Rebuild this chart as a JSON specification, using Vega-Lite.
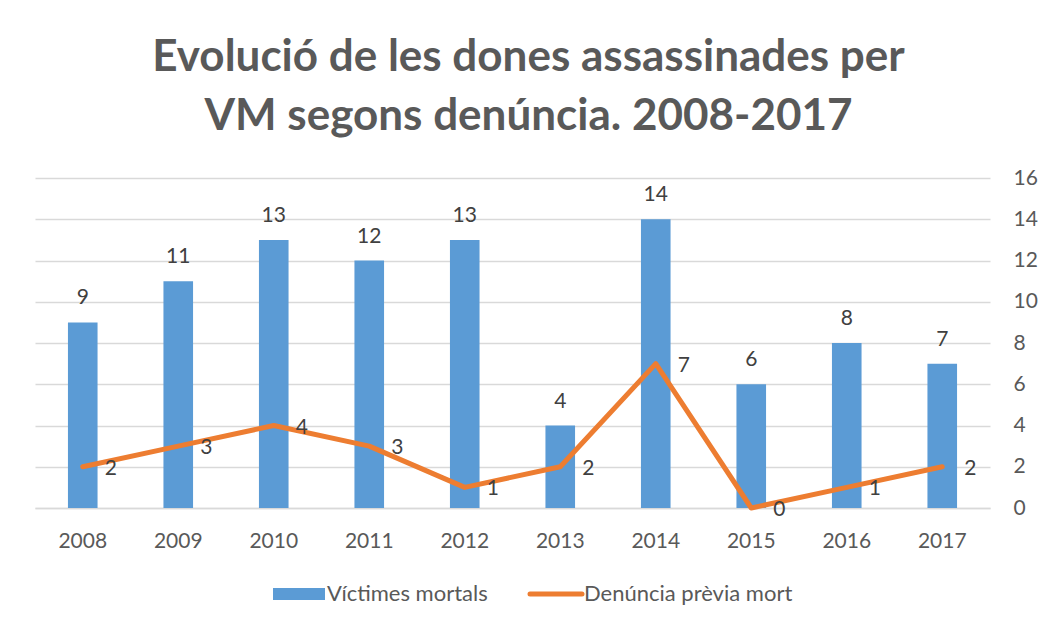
{
  "$schema": "https://vega.github.io/schema/vega-lite/v6.json",
  "width": 955,
  "height": 330,
  "autosize": {"type": "none"},
  "padding": {"left": 35, "top": 178, "right": 51, "bottom": 118},
  "background": "white",
  "title": {
    "text": ["Evolució de les dones assassinades per", "VM segons denúncia. 2008-2017"],
    "font": "Lato",
    "fontSize": 44,
    "fontWeight": "bold",
    "color": "#595959",
    "lineHeight": 59,
    "anchor": "middle",
    "baseline": "alphabetic",
    "dx": 16,
    "offset": -7
  },
  "data": {
    "values": [
      {"any": "2008", "victimes": 9, "denuncia": 2},
      {"any": "2009", "victimes": 11, "denuncia": 3},
      {"any": "2010", "victimes": 13, "denuncia": 4},
      {"any": "2011", "victimes": 12, "denuncia": 3},
      {"any": "2012", "victimes": 13, "denuncia": 1},
      {"any": "2013", "victimes": 4, "denuncia": 2},
      {"any": "2014", "victimes": 14, "denuncia": 7},
      {"any": "2015", "victimes": 6, "denuncia": 0},
      {"any": "2016", "victimes": 8, "denuncia": 1},
      {"any": "2017", "victimes": 7, "denuncia": 2}
    ]
  },
  "encoding": {
    "x": {
      "field": "any",
      "type": "nominal",
      "scale": {"paddingInner": 0.69, "paddingOuter": 0.345},
      "axis": {
        "title": null,
        "labelAngle": 0,
        "labelFont": "Lato",
        "labelFontSize": 21,
        "labelColor": "#595959",
        "labelPadding": 22,
        "ticks": false,
        "tickSize": 0,
        "domainColor": "#D9D9D9",
        "domainWidth": 1.5
      }
    }
  },
  "layer": [
    {
      "mark": {"type": "bar", "color": "#5B9BD5"},
      "encoding": {
        "y": {
          "field": "victimes",
          "type": "quantitative",
          "scale": {"domain": [0, 16]},
          "axis": {
            "orient": "right",
            "title": null,
            "values": [0, 2, 4, 6, 8, 10, 12, 14, 16],
            "grid": true,
            "gridColor": "#D9D9D9",
            "gridWidth": 1.5,
            "domain": false,
            "ticks": false,
            "tickSize": 0,
            "labelPadding": 23,
            "labelFont": "Lato",
            "labelFontSize": 21,
            "labelColor": "#595959"
          }
        },
        "color": {
          "datum": "Víctimes mortals",
          "scale": {
            "domain": ["Víctimes mortals", "Denúncia prèvia mort"],
            "range": ["#5B9BD5", "#ED7D31"]
          },
          "legend": {
            "title": null,
            "orient": "none",
            "direction": "horizontal",
            "legendX": 253,
            "legendY": 405,
            "symbolSize": 2704,
            "labelFont": "Lato",
            "labelFontSize": 22,
            "labelColor": "#595959",
            "labelOffset": 17,
            "labelLimit": 400,
            "columnPadding": 32,
            "encode": {
              "symbols": {
                "update": {
                  "shape": {"signal": "datum.value === 'Víctimes mortals' ? 'M-1,-0.23H1V0.23H-1Z' : 'M-1,0H1'"},
                  "fill": {"signal": "datum.value === 'Víctimes mortals' ? '#5B9BD5' : 'transparent'"},
                  "stroke": {"signal": "datum.value === 'Víctimes mortals' ? 'transparent' : '#ED7D31'"},
                  "strokeWidth": {"signal": "datum.value === 'Víctimes mortals' ? 0 : 5"},
                  "strokeCap": {"value": "round"},
                  "opacity": {"value": 1}
                }
              }
            }
          }
        }
      }
    },
    {
      "mark": {"type": "text", "font": "Lato", "fontSize": 21, "color": "#404040", "baseline": "alphabetic", "dy": -18},
      "encoding": {
        "y": {"field": "victimes", "type": "quantitative"},
        "text": {"field": "victimes", "type": "quantitative"}
      }
    },
    {
      "mark": {"type": "line", "strokeWidth": 5, "strokeCap": "round", "strokeJoin": "round"},
      "encoding": {
        "y": {"field": "denuncia", "type": "quantitative"},
        "color": {"datum": "Denúncia prèvia mort"}
      }
    },
    {
      "mark": {"type": "text", "font": "Lato", "fontSize": 21, "color": "#404040", "align": "left", "baseline": "middle", "dx": 22, "dy": 2},
      "encoding": {
        "y": {"field": "denuncia", "type": "quantitative"},
        "text": {"field": "denuncia", "type": "quantitative"}
      }
    }
  ],
  "config": {
    "view": {"stroke": null}
  }
}
